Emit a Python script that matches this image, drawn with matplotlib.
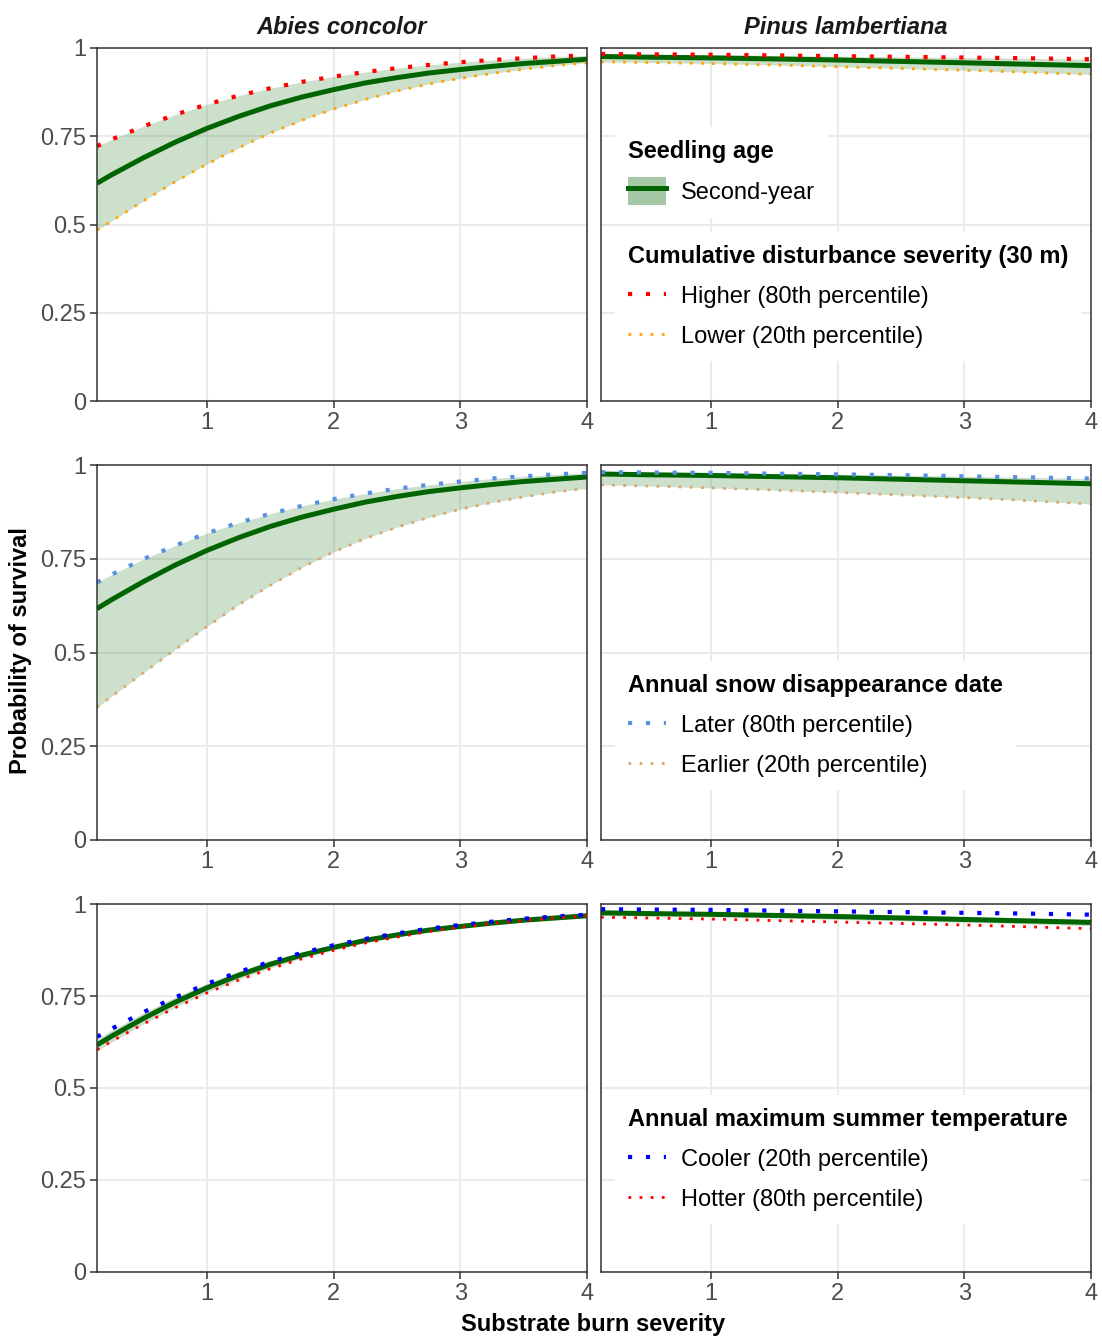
import matplotlib
matplotlib.use("Agg")
import matplotlib.pyplot as plt
from matplotlib.lines import Line2D
from matplotlib.patches import Patch

plt.rcParams['font.family'] = ['Liberation Sans', 'DejaVu Sans']

# substrate burn severity (x); Abies curves bend, so they are read more densely
abies_severity = [0.134, 0.25, 0.5, 0.75, 1.0, 1.25, 1.5, 1.75, 2.0,
                  2.25, 2.5, 2.75, 3.0, 3.25, 3.5, 3.75, 4.0]
pinus_severity = [0.134, 0.5, 1.0, 1.5, 2.0, 2.5, 3.0, 3.5, 4.0]

# Abies concolor, second-year seedlings
abies_mean = [0.617, 0.641, 0.689, 0.733, 0.772, 0.806, 0.836, 0.861, 0.882,
              0.901, 0.916, 0.929, 0.939, 0.948, 0.956, 0.962, 0.968]
abies_dist_high = [0.722, 0.741, 0.778, 0.811, 0.840, 0.865, 0.886, 0.904, 0.919,
                   0.932, 0.943, 0.952, 0.960, 0.966, 0.971, 0.976, 0.979]
abies_dist_low = [0.484, 0.510, 0.567, 0.621, 0.671, 0.717, 0.759, 0.795, 0.827,
                  0.854, 0.878, 0.898, 0.914, 0.928, 0.940, 0.950, 0.958]
abies_snow_late = [0.687, 0.708, 0.749, 0.785, 0.818, 0.846, 0.870, 0.891, 0.909,
                   0.924, 0.937, 0.947, 0.956, 0.964, 0.970, 0.975, 0.979]
abies_snow_early = [0.354, 0.383, 0.446, 0.508, 0.569, 0.627, 0.679, 0.727, 0.768,
                    0.804, 0.834, 0.860, 0.882, 0.900, 0.915, 0.928, 0.938]
abies_temp_cool = [0.639, 0.661, 0.706, 0.746, 0.783, 0.815, 0.843, 0.867, 0.888,
                   0.905, 0.920, 0.933, 0.943, 0.952, 0.960, 0.966, 0.971]
abies_temp_hot = [0.604, 0.627, 0.674, 0.718, 0.758, 0.793, 0.824, 0.851, 0.874,
                  0.894, 0.910, 0.925, 0.937, 0.947, 0.955, 0.962, 0.968]
abies_temp_ci_lo = [0.600, 0.625, 0.674, 0.719, 0.760, 0.795, 0.826, 0.853, 0.875,
                    0.895, 0.911, 0.924, 0.935, 0.945, 0.953, 0.959, 0.966]
abies_temp_ci_hi = [0.633, 0.657, 0.704, 0.747, 0.784, 0.817, 0.846, 0.869, 0.889,
                    0.907, 0.921, 0.934, 0.943, 0.951, 0.959, 0.965, 0.970]

# Pinus lambertiana, second-year seedlings
pinus_mean = [0.976, 0.974, 0.972, 0.969, 0.966, 0.962, 0.958, 0.954, 0.950]
pinus_dist_high = [0.983, 0.982, 0.981, 0.979, 0.977, 0.975, 0.973, 0.971, 0.968]
pinus_dist_low = [0.961, 0.959, 0.956, 0.952, 0.947, 0.942, 0.937, 0.931, 0.925]
pinus_snow_late = [0.981, 0.980, 0.979, 0.977, 0.975, 0.973, 0.970, 0.967, 0.964]
pinus_snow_early = [0.947, 0.944, 0.939, 0.933, 0.927, 0.920, 0.913, 0.905, 0.896]
pinus_temp_cool = [0.986, 0.985, 0.984, 0.982, 0.980, 0.978, 0.976, 0.974, 0.971]
pinus_temp_hot = [0.964, 0.962, 0.959, 0.955, 0.951, 0.947, 0.943, 0.938, 0.933]
pinus_temp_ci_lo = [0.969, 0.967, 0.965, 0.962, 0.958, 0.954, 0.950, 0.946, 0.941]
pinus_temp_ci_hi = [0.982, 0.980, 0.979, 0.976, 0.973, 0.970, 0.966, 0.962, 0.958]

species = ['Abies concolor', 'Pinus lambertiana']
severities = [abies_severity, pinus_severity]
x_ticks = [1, 2, 3, 4]
y_ticks = [0, 0.25, 0.5, 0.75, 1]
y_tick_labels = ['0', '0.25', '0.5', '0.75', '1']

# (legend title, high label, low label, high colour, low colour)
rows = [
    ('Cumulative disturbance severity (30 m)',
     'Higher (80th percentile)', 'Lower (20th percentile)', 'red', 'orange'),
    ('Annual snow disappearance date',
     'Later (80th percentile)', 'Earlier (20th percentile)', '#5A90E4', '#D8A86E'),
    ('Annual maximum summer temperature',
     'Cooler (20th percentile)', 'Hotter (80th percentile)', 'blue', 'red'),
]
panel_data = [
    [(abies_mean, abies_dist_high, abies_dist_low, abies_dist_low, abies_dist_high),
     (pinus_mean, pinus_dist_high, pinus_dist_low, pinus_dist_low, pinus_dist_high)],
    [(abies_mean, abies_snow_late, abies_snow_early, abies_snow_early, abies_snow_late),
     (pinus_mean, pinus_snow_late, pinus_snow_early, pinus_snow_early, pinus_snow_late)],
    [(abies_mean, abies_temp_cool, abies_temp_hot, abies_temp_ci_lo, abies_temp_ci_hi),
     (pinus_mean, pinus_temp_cool, pinus_temp_hot, pinus_temp_ci_lo, pinus_temp_ci_hi)],
]

GREEN = 'darkgreen'
BIG_DOT = dict(lw=3.0, linestyle=(0, (1, 3.3)), dash_capstyle='butt')
SMALL_DOT = dict(lw=2.0, linestyle=(0, (1, 3.0)), dash_capstyle='butt')

W, H = 1102, 1337
fig = plt.figure(figsize=(W / 100, H / 100), dpi=100)

# panel boxes in pixels
col_px = [(97, 587), (601, 1091)]
row_px = [(48, 401), (465, 840), (904, 1272)]
legend_top_px = [232, 661, 1095]

leg_kw = dict(loc='upper left', borderaxespad=0, borderpad=0.55, frameon=True,
              facecolor='white', edgecolor='none', framealpha=1, fancybox=False,
              fontsize=17, title_fontproperties={'weight': 'bold', 'size': 17},
              alignment='left', handlelength=1.6, handletextpad=0.65)

for r, (y0, y1) in enumerate(row_px):
    title, hi_lab, lo_lab, hi_col, lo_col = rows[r]
    for c, (x0, x1) in enumerate(col_px):
        ax = fig.add_axes([x0 / W, 1 - y1 / H, (x1 - x0) / W, (y1 - y0) / H])
        mean, hi, lo, ci_lo, ci_hi = panel_data[r][c]
        xs = severities[c]

        ax.fill_between(xs, ci_lo, ci_hi, color=GREEN, alpha=0.2, lw=0)
        ax.plot(xs, mean, color=GREEN, lw=3.6, solid_capstyle='butt',
                solid_joinstyle='round')
        ax.plot(xs, hi, color=hi_col, **BIG_DOT)
        ax.plot(xs, lo, color=lo_col, **SMALL_DOT)

        ax.set_xlim(xs[0], xs[-1])
        ax.set_ylim(0, 1)
        ax.set_xticks(x_ticks)
        ax.set_xticklabels([str(t) for t in x_ticks])
        ax.set_yticks(y_ticks)
        ax.set_yticklabels(y_tick_labels)
        ax.grid(color='#EBEBEB', lw=1.5)
        ax.set_axisbelow(True)
        for s in ax.spines.values():
            s.set_color('#333333')
            s.set_linewidth(1.1)
        ax.tick_params(length=5, width=1.1, color='#333333', labelsize=17,
                       labelcolor='#4D4D4D', pad=3)
        if c == 1:
            ax.tick_params(left=False, labelleft=False)

        if r == 0:
            ax.set_title(species[c], fontsize=17, fontweight='bold',
                         fontstyle='italic', color='#1A1A1A', pad=10)

        if c == 1:
            h_px = y1 - y0
            if r == 0:
                age = ax.legend(handles=[(Patch(facecolor=GREEN, alpha=0.35, edgecolor='none'),
                                          Line2D([], [], color=GREEN, lw=3.6))],
                                labels=['Second-year'], title='Seedling age',
                                bbox_to_anchor=(14 / 490, 1 - (127 - y0) / h_px),
                                handleheight=1.45, labelspacing=0.6, **leg_kw)
                ax.add_artist(age)
            top = legend_top_px[r]
            ax.legend(handles=[Line2D([], [], color=hi_col, **BIG_DOT),
                               Line2D([], [], color=lo_col, **SMALL_DOT)],
                      labels=[hi_lab, lo_lab], title=title,
                      bbox_to_anchor=(14 / 490, 1 - (top - y0) / h_px),
                      handleheight=0.8, labelspacing=0.75, **leg_kw)

fig.text(21 / W, 1 - 651 / H, 'Probability of survival', rotation=90,
         ha='center', va='center', fontsize=17, fontweight='bold')
fig.text(593 / W, 1 - 1325 / H, 'Substrate burn severity',
         ha='center', va='center', fontsize=17, fontweight='bold')

fig.savefig('out.png', dpi=100, facecolor='white')
